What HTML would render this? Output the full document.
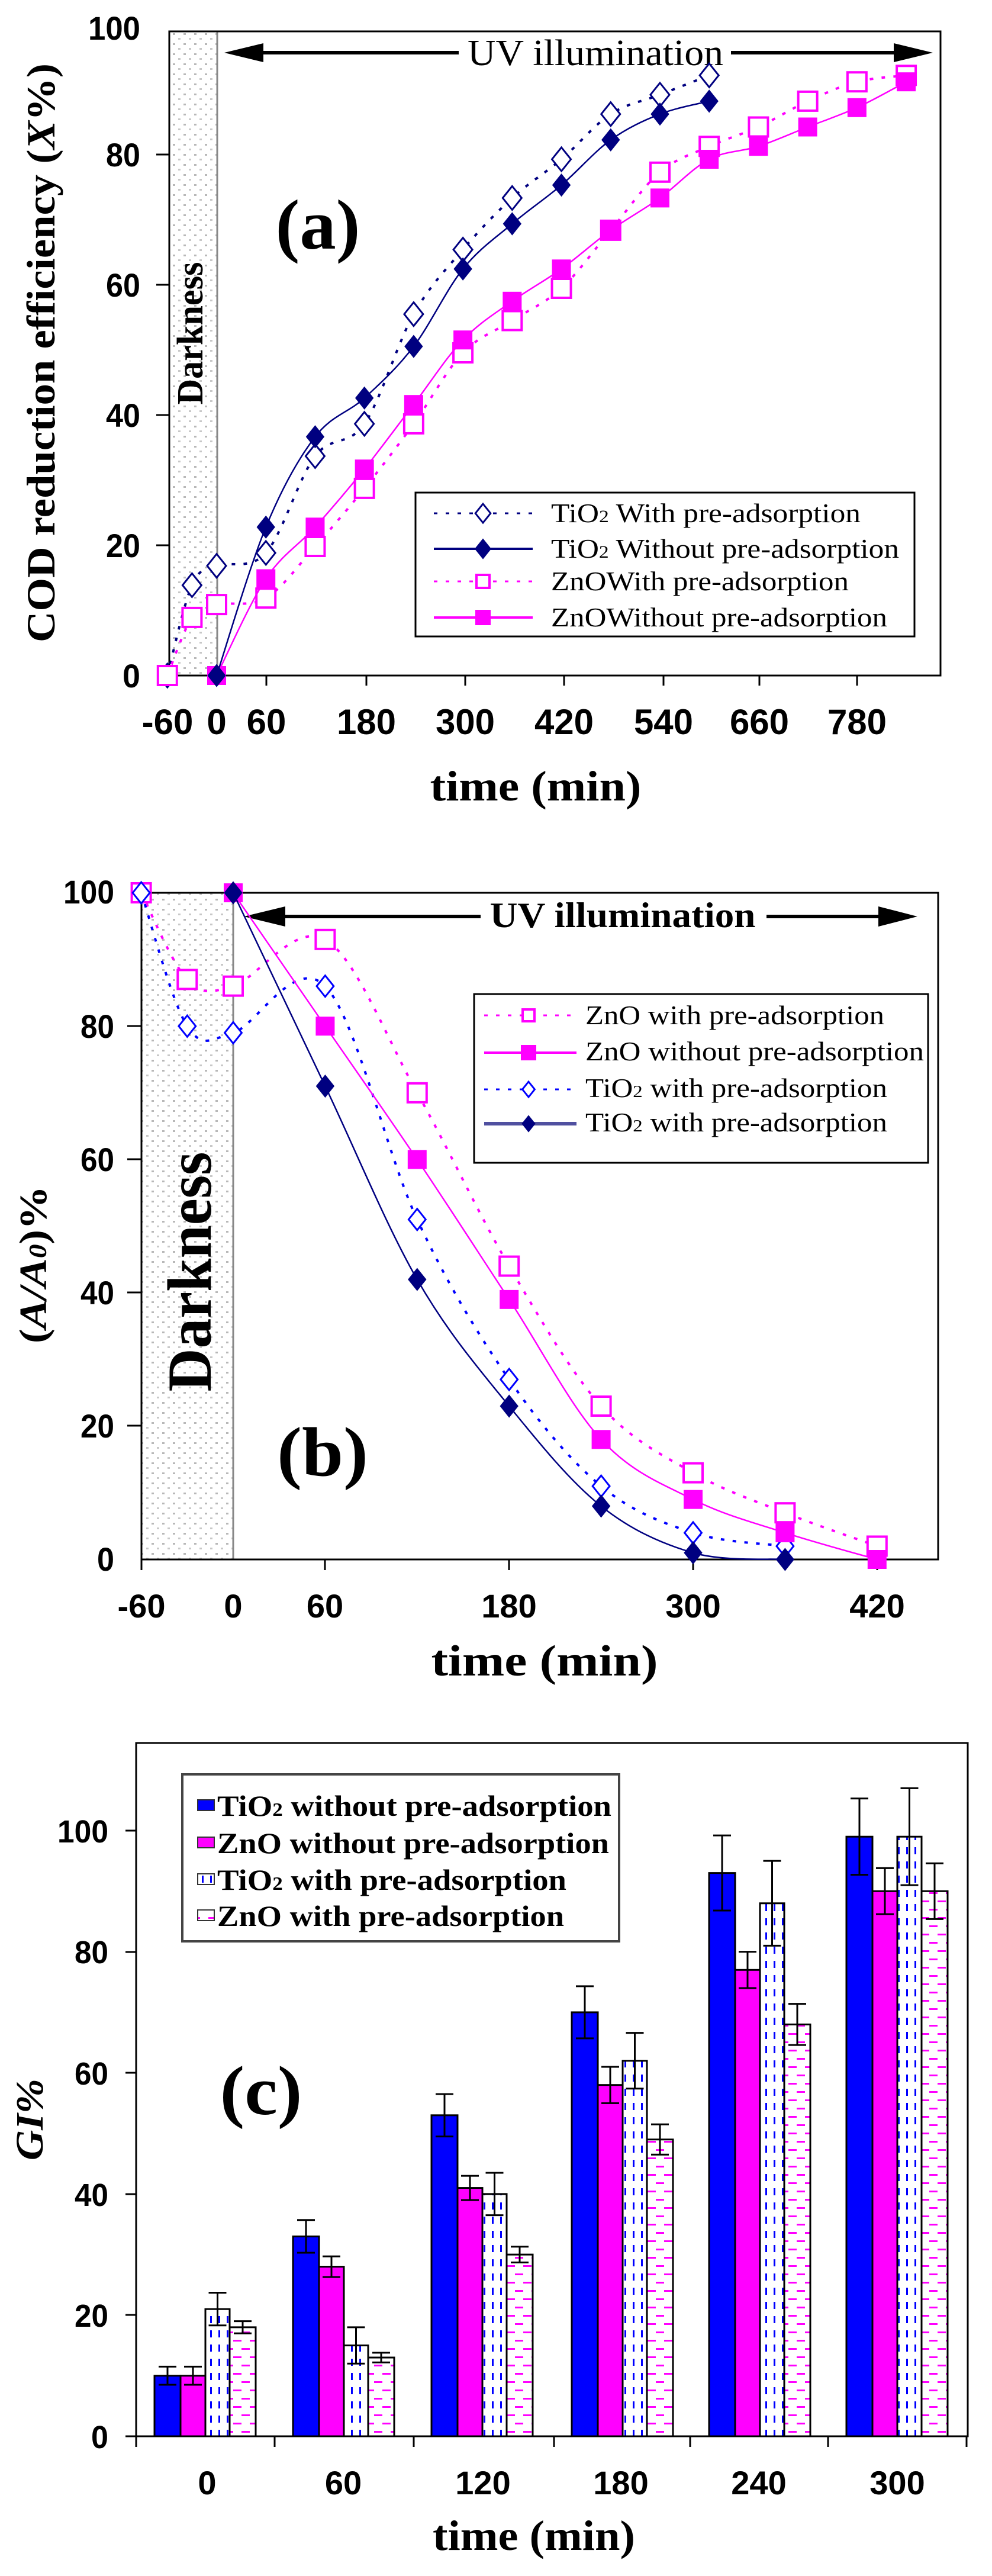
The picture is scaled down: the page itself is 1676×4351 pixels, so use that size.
<!DOCTYPE html>
<html><head><meta charset="utf-8"><style>
html,body{margin:0;padding:0;background:#fff;}
svg{display:block;}
.ser{font-family:"Liberation Serif",serif;font-weight:bold;}
.san{font-family:"Liberation Sans",sans-serif;font-weight:bold;}
</style></head><body>
<svg id="s" width="1676" height="4351" viewBox="0 0 1676 4351" xmlns="http://www.w3.org/2000/svg">
<defs>
<pattern id="dots" width="18" height="17" patternUnits="userSpaceOnUse">
<rect x="4" y="5" width="4" height="3" fill="#b8b8b8"/><rect x="13" y="13" width="4" height="3" fill="#c8c8c8"/>
</pattern>
<pattern id="vd" width="14" height="24" patternUnits="userSpaceOnUse">
<rect x="5" y="0" width="3" height="12" fill="#0000ff"/>
</pattern>
<pattern id="hd" width="28" height="28" patternUnits="userSpaceOnUse">
<rect x="2" y="4" width="14" height="3" fill="#ff00ff"/><rect x="16" y="18" width="14" height="3" fill="#ff00ff"/><rect x="-12" y="18" width="14" height="3" fill="#ff00ff"/>
</pattern>
</defs>

<!-- ============ PANEL A ============ -->
<rect x="286" y="53" width="80" height="1088" fill="url(#dots)"/>
<line x1="367" y1="53" x2="367" y2="1141" stroke="#888" stroke-width="3"/>
<rect x="286" y="53" width="1303" height="1088" fill="none" stroke="#000" stroke-width="3"/>
<g stroke="#000" stroke-width="3">
<line x1="264" y1="261" x2="286" y2="261"/><line x1="264" y1="481" x2="286" y2="481"/><line x1="264" y1="701" x2="286" y2="701"/><line x1="264" y1="921" x2="286" y2="921"/>
<line x1="450" y1="1141" x2="450" y2="1158"/><line x1="619" y1="1141" x2="619" y2="1158"/><line x1="786" y1="1141" x2="786" y2="1158"/><line x1="953" y1="1141" x2="953" y2="1158"/><line x1="1121" y1="1141" x2="1121" y2="1158"/><line x1="1283" y1="1141" x2="1283" y2="1158"/><line x1="1448" y1="1141" x2="1448" y2="1158"/>
</g>
<g class="san" font-size="56" text-anchor="end">
<text x="237" y="67" textLength="88" lengthAdjust="spacingAndGlyphs">100</text>
<text x="237" y="281" textLength="58" lengthAdjust="spacingAndGlyphs">80</text>
<text x="237" y="501" textLength="58" lengthAdjust="spacingAndGlyphs">60</text>
<text x="237" y="721" textLength="58" lengthAdjust="spacingAndGlyphs">40</text>
<text x="237" y="941" textLength="58" lengthAdjust="spacingAndGlyphs">20</text>
<text x="237" y="1161" textLength="30" lengthAdjust="spacingAndGlyphs">0</text>
</g>
<g class="san" font-size="60" text-anchor="middle">
<text x="283" y="1240">-60</text><text x="366" y="1240">0</text><text x="450" y="1240">60</text>
<text x="619" y="1240">180</text><text x="786" y="1240">300</text><text x="953" y="1240">420</text>
<text x="1121" y="1240">540</text><text x="1283" y="1240">660</text><text x="1448" y="1240">780</text>
</g>
<text class="ser" font-size="72" x="905" y="1352" text-anchor="middle" textLength="357" lengthAdjust="spacingAndGlyphs">time  (min)</text>
<text class="ser" font-size="68" transform="translate(92,596) rotate(-90)" text-anchor="middle" textLength="978" lengthAdjust="spacingAndGlyphs">COD reduction efficiency  (<tspan font-style="italic">X</tspan>%)</text>
<text class="ser" font-size="62" transform="translate(342,563) rotate(-90)" text-anchor="middle" textLength="241" lengthAdjust="spacingAndGlyphs">Darkness</text>
<text class="ser" font-size="120" x="537" y="420" text-anchor="middle" textLength="143" lengthAdjust="spacingAndGlyphs">(a)</text>
<!-- UV arrow a -->
<line x1="400" y1="89" x2="775" y2="89" stroke="#000" stroke-width="6"/>
<polygon points="379,89 445,73 445,105" fill="#000"/>
<line x1="1235" y1="89" x2="1540" y2="89" stroke="#000" stroke-width="6"/>
<polygon points="1576,89 1510,73 1510,105" fill="#000"/>
<text class="ser" font-size="62" font-weight="normal" x="1006" y="110" text-anchor="middle" textLength="432" lengthAdjust="spacingAndGlyphs" style="font-weight:normal">UV illumination</text>
<g id="ga"></g>
<!-- legend a -->
<rect x="702" y="832" width="843" height="243" fill="#fff" stroke="#000" stroke-width="3"/>
<g class="ser" font-size="46" style="font-weight:normal">
<text x="931" y="882" textLength="523" lengthAdjust="spacingAndGlyphs">TiO<tspan font-size="30">2</tspan> With pre-adsorption</text>
<text x="931" y="942" textLength="588" lengthAdjust="spacingAndGlyphs">TiO<tspan font-size="30">2</tspan> Without pre-adsorption</text>
<text x="931" y="997" textLength="503" lengthAdjust="spacingAndGlyphs">ZnOWith pre-adsorption</text>
<text x="931" y="1058" textLength="568" lengthAdjust="spacingAndGlyphs">ZnOWithout pre-adsorption</text>
</g>
<g id="la"></g>

<!-- ============ PANEL B ============ -->
<rect x="239" y="1508" width="155" height="1126" fill="url(#dots)"/>
<line x1="394" y1="1508" x2="394" y2="2634" stroke="#888" stroke-width="3"/>
<rect x="239" y="1508" width="1346" height="1126" fill="none" stroke="#000" stroke-width="3"/>
<g stroke="#000" stroke-width="3">
<line x1="215" y1="1733" x2="239" y2="1733"/><line x1="215" y1="1958" x2="239" y2="1958"/><line x1="215" y1="2183" x2="239" y2="2183"/><line x1="215" y1="2408" x2="239" y2="2408"/>
<line x1="239" y1="2634" x2="239" y2="2652"/><line x1="549" y1="2634" x2="549" y2="2652"/><line x1="860" y1="2634" x2="860" y2="2652"/><line x1="1171" y1="2634" x2="1171" y2="2652"/><line x1="1482" y1="2634" x2="1482" y2="2652"/>
</g>
<g class="san" font-size="56" text-anchor="end">
<text x="193" y="1526" textLength="86" lengthAdjust="spacingAndGlyphs">100</text>
<text x="193" y="1753" textLength="57" lengthAdjust="spacingAndGlyphs">80</text>
<text x="193" y="1978" textLength="57" lengthAdjust="spacingAndGlyphs">60</text>
<text x="193" y="2203" textLength="57" lengthAdjust="spacingAndGlyphs">40</text>
<text x="193" y="2428" textLength="57" lengthAdjust="spacingAndGlyphs">20</text>
<text x="193" y="2653" textLength="29" lengthAdjust="spacingAndGlyphs">0</text>
</g>
<g class="san" font-size="56" text-anchor="middle">
<text x="239" y="2732">-60</text><text x="394" y="2732">0</text><text x="549" y="2732">60</text>
<text x="860" y="2732">180</text><text x="1171" y="2732">300</text><text x="1482" y="2732">420</text>
</g>
<text class="ser" font-size="74" x="920" y="2830" text-anchor="middle" textLength="383" lengthAdjust="spacingAndGlyphs">time (min)</text>
<text class="ser" font-size="66" transform="translate(78,2136) rotate(-90)" text-anchor="middle" textLength="266" lengthAdjust="spacingAndGlyphs">(<tspan font-style="italic">A/A<tspan font-size="42">0</tspan></tspan>)%</text>
<text class="ser" font-size="106" transform="translate(356,2148) rotate(-90)" text-anchor="middle" textLength="405" lengthAdjust="spacingAndGlyphs">Darkness</text>
<text class="ser" font-size="118" x="545" y="2492" text-anchor="middle" textLength="154" lengthAdjust="spacingAndGlyphs">(b)</text>
<line x1="440" y1="1548" x2="812" y2="1548" stroke="#000" stroke-width="6"/>
<polygon points="412,1548 482,1531 482,1565" fill="#000"/>
<line x1="1295" y1="1548" x2="1520" y2="1548" stroke="#000" stroke-width="6"/>
<polygon points="1550,1548 1484,1531 1484,1565" fill="#000"/>
<text class="ser" font-size="60" x="1052" y="1566" text-anchor="middle" textLength="449" lengthAdjust="spacingAndGlyphs">UV illumination</text>
<g id="gb"></g>
<rect x="801" y="1679" width="767" height="285" fill="#fff" stroke="#000" stroke-width="3"/>
<g class="ser" font-size="45" style="font-weight:normal">
<text x="989" y="1730" textLength="505" lengthAdjust="spacingAndGlyphs">ZnO with pre-adsorption</text>
<text x="989" y="1791" textLength="572" lengthAdjust="spacingAndGlyphs">ZnO without pre-adsorption</text>
<text x="989" y="1853" textLength="510" lengthAdjust="spacingAndGlyphs">TiO<tspan font-size="29">2</tspan> with pre-adsorption</text>
<text x="989" y="1911" textLength="510" lengthAdjust="spacingAndGlyphs">TiO<tspan font-size="29">2</tspan> with pre-adsorption</text>
</g>
<g id="lb"></g>

<!-- ============ PANEL C ============ -->
<rect x="230" y="2944" width="1405" height="1171" fill="none" stroke="#000" stroke-width="3"/>
<g id="gc"></g>
<g class="san" font-size="54" text-anchor="end">
<text x="183" y="3112" textLength="86" lengthAdjust="spacingAndGlyphs">100</text>
<text x="183" y="3316" textLength="57" lengthAdjust="spacingAndGlyphs">80</text>
<text x="183" y="3521" textLength="57" lengthAdjust="spacingAndGlyphs">60</text>
<text x="183" y="3726" textLength="57" lengthAdjust="spacingAndGlyphs">40</text>
<text x="183" y="3930" textLength="57" lengthAdjust="spacingAndGlyphs">20</text>
<text x="183" y="4135" textLength="29" lengthAdjust="spacingAndGlyphs">0</text>
</g>
<g class="san" font-size="56" text-anchor="middle">
<text x="350" y="4213">0</text><text x="580" y="4213">60</text><text x="816" y="4213">120</text>
<text x="1049" y="4213">180</text><text x="1282" y="4213">240</text><text x="1516" y="4213">300</text>
</g>
<text class="ser" font-size="72" x="902" y="4307" text-anchor="middle" textLength="342" lengthAdjust="spacingAndGlyphs">time (min)</text>
<text class="ser" font-size="66" font-style="italic" transform="translate(72,3580) rotate(-90)" text-anchor="middle" textLength="138" lengthAdjust="spacingAndGlyphs">GI%</text>
<text class="ser" font-size="118" x="441" y="3571" text-anchor="middle" textLength="139" lengthAdjust="spacingAndGlyphs">(c)</text>
<rect x="308" y="2997" width="738" height="282" fill="#fff" stroke="#444" stroke-width="4"/>
<g stroke="#333" stroke-width="2">
<rect x="334" y="3040" width="28" height="18" fill="#0000ff"/>
<rect x="334" y="3103" width="28" height="18" fill="#ff00ff"/>
<rect x="334" y="3165" width="28" height="18" fill="url(#vd)"/>
<rect x="334" y="3226" width="28" height="18" fill="url(#hd)"/>
</g>
<g class="ser" font-size="50">
<text x="367" y="3067" textLength="666" lengthAdjust="spacingAndGlyphs">TiO<tspan font-size="32">2</tspan> without pre-adsorption</text>
<text x="367" y="3130" textLength="662" lengthAdjust="spacingAndGlyphs">ZnO without pre-adsorption</text>
<text x="367" y="3192" textLength="590" lengthAdjust="spacingAndGlyphs">TiO<tspan font-size="32">2</tspan> with pre-adsorption</text>
<text x="367" y="3253" textLength="586" lengthAdjust="spacingAndGlyphs">ZnO with pre-adsorption</text>
</g>
</svg>
<script>
var NS="http://www.w3.org/2000/svg";
function el(p,t,a){var e=document.createElementNS(NS,t);for(var k in a)e.setAttribute(k,a[k]);p.appendChild(e);return e;}
function smooth(pts){var d="M"+pts[0][0]+","+pts[0][1];for(var i=0;i<pts.length-1;i++){var p0=pts[i-1]||pts[i],p1=pts[i],p2=pts[i+1],p3=pts[i+2]||p2;var t=6;d+=" C"+(p1[0]+(p2[0]-p0[0])/t)+","+(p1[1]+(p2[1]-p0[1])/t)+" "+(p2[0]-(p3[0]-p1[0])/t)+","+(p2[1]-(p3[1]-p1[1])/t)+" "+p2[0]+","+p2[1];}return d;}
function marker(g,type,x,y,s,col){
 if(type=="od")el(g,"polygon",{points:x+","+(y-s)+" "+(x+s*0.8)+","+y+" "+x+","+(y+s)+" "+(x-s*0.8)+","+y,fill:"#fff",stroke:col,"stroke-width":3});
 if(type=="fd")el(g,"polygon",{points:x+","+(y-s)+" "+(x+s*0.8)+","+y+" "+x+","+(y+s)+" "+(x-s*0.8)+","+y,fill:col,stroke:col,"stroke-width":2});
 if(type=="os")el(g,"rect",{x:x-s,y:y-s,width:2*s,height:2*s,fill:"#fff",stroke:col,"stroke-width":4});
 if(type=="fs")el(g,"rect",{x:x-s,y:y-s,width:2*s,height:2*s,fill:col});
}
function series(g,X,Y,data,col,dash,type,s){
 var pts=data.map(function(d){return [X(d[0]),Y(d[1])];});
 var a={d:smooth(pts),fill:"none",stroke:col,"stroke-width":dash?4:2.5};if(dash)a["stroke-dasharray"]="6 14";
 el(g,"path",a);
 pts.forEach(function(p){marker(g,type,p[0],p[1],s,col);});
}
var NAV="#000080",MAG="#ff00ff",BLU="#0000ff";
// panel a
var ga=document.getElementById("ga");
var XA=function(t){return 366+t*1.387},YA=function(v){return 1141-v*10.9};
series(ga,XA,YA,[[-60,0],[-30,14],[0,17],[60,19],[120,34],[180,39],[240,56],[300,66],[360,74],[420,80],[480,87],[540,90],[600,93]],NAV,1,"od",20);
series(ga,XA,YA,[[-60,0],[-30,9],[0,11],[60,12],[120,20],[180,29],[240,39],[300,50],[360,55],[420,60],[480,69],[540,78],[600,82],[660,85],[720,89],[780,92],[840,93]],MAG,1,"os",16);
series(ga,XA,YA,[[0,0],[60,15],[120,23],[180,32],[240,42],[300,52],[360,58],[420,63],[480,69],[540,74],[600,80],[660,82],[720,85],[780,88],[840,92]],MAG,0,"fs",16);
series(ga,XA,YA,[[0,0],[60,23],[120,37],[180,43],[240,51],[300,63],[360,70],[420,76],[480,83],[540,87],[600,89]],NAV,0,"fd",18);
var la=document.getElementById("la");
[[867,NAV,1,"od"],[927,NAV,0,"fd"],[982,MAG,1,"os"],[1043,MAG,0,"fs"]].forEach(function(r){
 var a={x1:733,y1:r[0],x2:900,y2:r[0],stroke:r[1],"stroke-width":r[2]?3:4};if(r[2])a["stroke-dasharray"]="6 14";el(la,"line",a);
 marker(la,r[3],816,r[0],r[3]=="os"?11:(r[3]=="fs"?13:16),r[1]);});
// panel b
var gb=document.getElementById("gb");
var XB=function(t){return 394+t*2.59},YB=function(v){return 2634-v*11.26};
series(gb,XB,YB,[[-60,100],[-30,87],[0,86],[60,93],[120,70],[180,44],[240,23],[300,13],[360,7],[420,2]],MAG,1,"os",16);
series(gb,XB,YB,[[-60,100],[-30,80],[0,79],[60,86],[120,51],[180,27],[240,11],[300,4],[360,2]],BLU,1,"od",18);
series(gb,XB,YB,[[0,100],[60,80],[120,60],[180,39],[240,18],[300,9],[360,4],[420,0]],MAG,0,"fs",16);
series(gb,XB,YB,[[0,100],[60,71],[120,42],[180,23],[240,8],[300,1],[360,0]],NAV,0,"fd",18);
var lb=document.getElementById("lb");
[[1715,MAG,1,"os"],[1778,MAG,0,"fs"],[1840,BLU,1,"od"],[1898,"#5050a0",0,"fd"]].forEach(function(r){
 var a={x1:818,y1:r[0],x2:974,y2:r[0],stroke:r[1],"stroke-width":r[2]?3:(r[3]=="fd"?6:4)};if(r[2])a["stroke-dasharray"]="6 14";el(lb,"line",a);
 marker(lb,r[3],893,r[0],r[3]=="os"?10:(r[3]=="fs"?13:13),r[3]=="fd"?NAV:r[1]);});
// panel c
var gc=document.getElementById("gc");
var YC=function(v){return 4115-v*10.23};
var vals=[[10,10,21,18],[33,28,15,13],[53,41,40,30],[70,58,62,49],[93,77,88,68],[99,90,99,90]];
var errs=[[1.5,1.5,2.7,1],[2.7,1.7,3,0.8],[3.5,2,3.5,1.3],[4.3,3,4.6,2.5],[6.2,3,7,3.4],[6.3,3.8,8,4.6]];
var starts=[261,495,729,966,1198,1430];
var fills=["#0000ff","#ff00ff","url(#vd)","url(#hd)"];
var offs=[0,44,86,127],wid=[44,42,41,44];
for(var g=0;g<6;g++){for(var b=0;b<4;b++){
 var x=starts[g]+offs[b],w=wid[b],v=vals[g][b],y=YC(v);
 if(b>=2)el(gc,"rect",{x:x,y:y,width:w,height:4115-y,fill:"#fff"});
 el(gc,"rect",{x:x,y:y,width:w,height:4115-y,fill:fills[b],stroke:"#000","stroke-width":3});
 var cx=x+w/2,e=errs[g][b];
 el(gc,"line",{x1:cx,y1:YC(v+e),x2:cx,y2:YC(v-e),stroke:"#000","stroke-width":3});
 el(gc,"line",{x1:cx-15,y1:YC(v+e),x2:cx+15,y2:YC(v+e),stroke:"#000","stroke-width":3});
 el(gc,"line",{x1:cx-15,y1:YC(v-e),x2:cx+15,y2:YC(v-e),stroke:"#000","stroke-width":3});
}}
[3092,3297,3501,3706,3910,4115].forEach(function(y){el(gc,"line",{x1:212,y1:y,x2:230,y2:y,stroke:"#000","stroke-width":3});});
[230,464,699,936,1166,1399,1633].forEach(function(x){el(gc,"line",{x1:x,y1:4115,x2:x,y2:4133,stroke:"#000","stroke-width":3});});
</script>
</body></html>
